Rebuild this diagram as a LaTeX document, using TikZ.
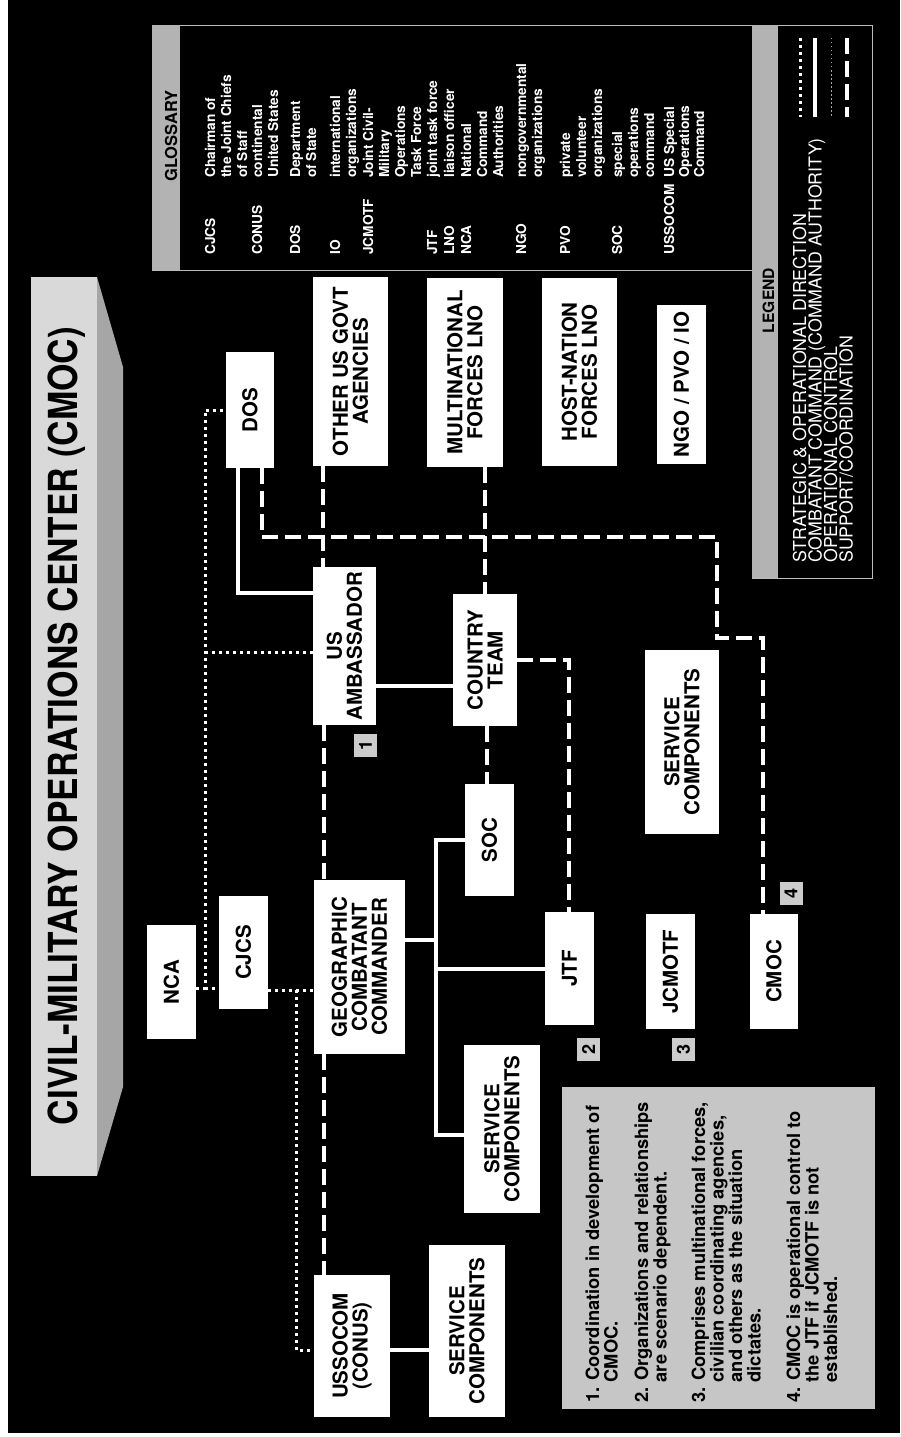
\documentclass[tikz,border=0pt]{standalone}
\usepackage{fontspec}
\setmainfont{TeX Gyre Heros}
\usepackage{graphicx}
\definecolor{banfront}{HTML}{D9D9D9}
\definecolor{banside}{HTML}{A6A6A6}
\definecolor{bandfill}{HTML}{B3B3B3}
\definecolor{notefill}{HTML}{C6C6C6}
\definecolor{numfill}{HTML}{CCCCCC}
\definecolor{frameline}{HTML}{BBBBBB}
\begin{document}
\begin{tikzpicture}[x=1pt,y=-1pt,
  box/.style={fill=white, text=black, rotate=90, inner sep=0pt, align=center,
    font=\bfseries\fontsize{20.5}{20}\selectfont},
  rt/.style={rotate=90, anchor=base west, inner sep=0pt, text=white},
  gl/.style={rt, font=\bfseries\fontsize{13.7}{15.8}\selectfont},
  lg/.style={rt, font=\fontsize{17.8}{15.6}\selectfont},
  nt/.style={rt, text=black, font=\bfseries\fontsize{18.3}{18.5}\selectfont},
  numbox/.style={fill=numfill, text=black, rotate=90, minimum size=23pt, inner sep=0pt,
    font=\bfseries\fontsize{18}{18}\selectfont},
  strat/.style={white, line width=3pt, dash pattern=on 3pt off 4pt},
  cmd/.style={white, line width=4pt},
  supp/.style={white, line width=3.5pt, dash pattern=on 16pt off 7pt},
  opc/.style={gray!70, line width=1pt, dash pattern=on 1.5pt off 2.5pt},
  boxline/.style={draw=frameline, line width=0.8pt}
]
\useasboundingbox (0,0) rectangle (900,1437);
\fill[white] (0,0) rectangle (900,1437);
\fill[black] (8,0) rectangle (900,1433);

% ---- title banner
\fill[banfront] (31,277) rectangle (97,1176);
\fill[banside] (97,277) -- (123,367) -- (123,1087) -- (97,1176) -- cycle;
\node[rotate=90, anchor=base, inner sep=0pt, text=black,
  font=\bfseries\fontsize{40}{40}\selectfont] (title) at (77,726)
  {\scalebox{0.88}[1]{CIVIL-MILITARY OPERATIONS CENTER (CMOC)}};

% ---- glossary
\draw[boxline, fill=black] (152,25) rectangle (752,270);
\fill[bandfill] (152.4,25.4) rectangle (180,269.6);
\node[rt, text=black, font=\bfseries\fontsize{16.5}{16.5}\selectfont] (glhead) at (177,182) {GLOSSARY};
\foreach \bx/\txt [count=\i] in {215/CJCS, 262/CONUS, 300/DOS, 340/IO, 373/JCMOTF,
  437/JTF, 454/LNO, 471/NCA, 526/NGO, 570/PVO, 622/SOC, 674/USSOCOM}
  \node[gl, name=gt\i] at (\bx,255) {\txt};
\foreach \bx/\txt [count=\i] in {215/Chairman of, 231/the Joint Chiefs, 247/of Staff,
  262/continental, 278/United States, 300/Department, 316/of State,
  340/international, 356/organizations, 373/Joint Civil-, 389/Military,
  405/Operations, 421/Task Force, 437/joint task force, 454/liaison officer,
  471/National, 487/Command, 503/Authorities, 526/nongovernmental,
  542/organizations, 570/private, 586/volunteer, 602/organizations,
  622/special, 638/operations, 654/command, 674/US Special, 689/Operations,
  704/Command}
  \node[gl, name=gd\i] at (\bx,178) {\txt};

% ---- legend
\draw[boxline, fill=black] (752,25) rectangle (872,578);
\fill[bandfill] (752.4,25.4) rectangle (778,577.6);
\node[rotate=90, anchor=base, inner sep=0pt, text=black,
  font=\bfseries\fontsize{15.6}{16}\selectfont] (leghead) at (774,300.5) {LEGEND};
\node[lg] (lg1) at (806,563) {STRATEGIC \& OPERATIONAL DIRECTION};
\node[lg] (lg2) at (821.5,563) {COMBATANT COMMAND (COMMAND AUTHORITY)};
\node[lg] (lg3) at (837,563) {OPERATIONAL CONTROL};
\node[lg] (lg4) at (852.5,563) {SUPPORT/COORDINATION};
\draw[strat] (800,38) -- (800,117);
\draw[cmd] (815,38) -- (815,117);
\draw[opc] (831,38) -- (831,117);
\draw[supp] (847,38) -- (847,117);

% ---- organisation boxes
\node[box, minimum width=114pt, minimum height=49pt] (nca) at (171.5,982) {NCA};
\node[box, minimum width=113pt, minimum height=49pt] (cjcs) at (243.5,952.5) {CJCS};
\node[box, minimum width=174pt, minimum height=91pt] (gcc) at (359.5,967) {GEOGRAPHIC\\COMBATANT\\COMMANDER};
\node[box, minimum width=142pt, minimum height=76pt] (ussocom) at (352,1346) {USSOCOM\\(CONUS)};
\node[box, minimum width=172pt, minimum height=76pt] (scu) at (467,1331) {SERVICE\\COMPONENTS};
\node[box, minimum width=168pt, minimum height=76pt] (scg) at (502,1129) {SERVICE\\COMPONENTS};
\node[box, minimum width=112pt, minimum height=49pt] (soc) at (489.5,840) {SOC};
\node[box, minimum width=113pt, minimum height=49pt] (jtf) at (569.5,968.5) {JTF};
\node[box, minimum width=115pt, minimum height=49pt] (jcmotf) at (670.5,971.5) {JCMOTF};
\node[box, minimum width=115pt, minimum height=48pt] (cmoc) at (774,971.5) {CMOC};
\node[box, minimum width=184pt, minimum height=74pt] (scm) at (682,742) {SERVICE\\COMPONENTS};
\node[box, minimum width=158pt, minimum height=63pt] (usamb) at (344.5,646) {US\\AMBASSADOR};
\node[box, minimum width=132pt, minimum height=64pt] (ctry) at (485,660) {COUNTRY\\TEAM};
\node[box, minimum width=116pt, minimum height=48pt] (dos) at (250,410) {DOS};
\node[box, minimum width=189pt, minimum height=75pt] (ousg) at (350.5,371.5) {OTHER US GOVT\\AGENCIES};
\node[box, minimum width=189pt, minimum height=76pt] (mnf) at (465,372.5) {MULTINATIONAL\\FORCES LNO};
\node[box, minimum width=188pt, minimum height=75pt] (hnf) at (579.5,372) {HOST-NATION\\FORCES LNO};
\node[box, minimum width=159pt, minimum height=49pt] (ngo) at (681.5,384.5) {NGO / PVO / IO};

% ---- strategic & operational direction (dotted)
\draw[strat] (nca.south |- 0,988) -- (205,988) |- (dos.north);
\draw[strat] (205,652) -- (usamb.north |- 0,652);
\draw[strat] (205,988) -- (cjcs.north |- 0,988);
\draw[strat] (cjcs.south |- 0,990) -- (gcc.north |- 0,990);
\draw[strat] (296,990) |- (ussocom.north |- 0,1350);

% ---- combatant command (solid)
\draw[cmd] (dos.west -| 238,0) |- (usamb.north |- 0,593);
\draw[cmd] (usamb.south |- 0,686) -- (ctry.north |- 0,686);
\draw[cmd] (gcc.south |- 0,940) -- (436,940);
\draw[cmd] (soc.north) -| (436,1135) -- (scg.north |- 0,1135);
\draw[cmd] (436,0 |- jtf.north) -- (jtf.north);
\draw[cmd] (ussocom.south |- 0,1350) -- (scu.north |- 0,1350);

% ---- support / coordination (dashed)
\draw[supp] (ousg.west -| 323,0) -- (usamb.east -| 323,0);
\draw[supp] (usamb.west -| 324,0) -- (gcc.east -| 324,0);
\draw[supp] (gcc.west -| 324,0) -- (ussocom.east -| 324,0);
\draw[supp] (mnf.west -| 485,0) -- (ctry.east -| 485,0);
\draw[supp] (ctry.west -| 487,0) -- (soc.east -| 487,0);
\draw[supp] (ctry.south |- 0,660) -| (jtf.east -| 569,0);
\draw[supp] (dos.west -| 262,0) |- (717,537) |- (763,638) -- (cmoc.east -| 763,0);

% ---- numbered markers
\node[numbox] (n1) at (365.5,745) {1};
\node[numbox] (n2) at (588.5,1049.5) {2};
\node[numbox] (n3) at (683.5,1049.5) {3};
\node[numbox] (n4) at (791,893.5) {4};

% ---- notes
\fill[notefill] (562,1087) rectangle (875,1409);
\node[nt] (t1a) at (599,1403) {1. Coordination in development of};
\node[nt] (t1b) at (617.5,1382.5) {CMOC.};
\node[nt] (t2a) at (648,1403) {2. Organizations and relationships};
\node[nt] (t2b) at (666.5,1382.5) {are scenario dependent.};
\node[nt] (t3a) at (705,1403) {3. Comprises multinational forces,};
\node[nt] (t3b) at (723.5,1382.5) {civilian coordinating agencies,};
\node[nt] (t3c) at (742,1382.5) {and others as the situation};
\node[nt] (t3d) at (760.5,1382.5) {dictates.};
\node[nt] (t4a) at (800,1403) {4. CMOC is operational control to};
\node[nt] (t4b) at (818.5,1382.5) {the JTF if JCMOTF is not};
\node[nt] (t4c) at (837,1382.5) {established.};
\end{tikzpicture}
\end{document}
